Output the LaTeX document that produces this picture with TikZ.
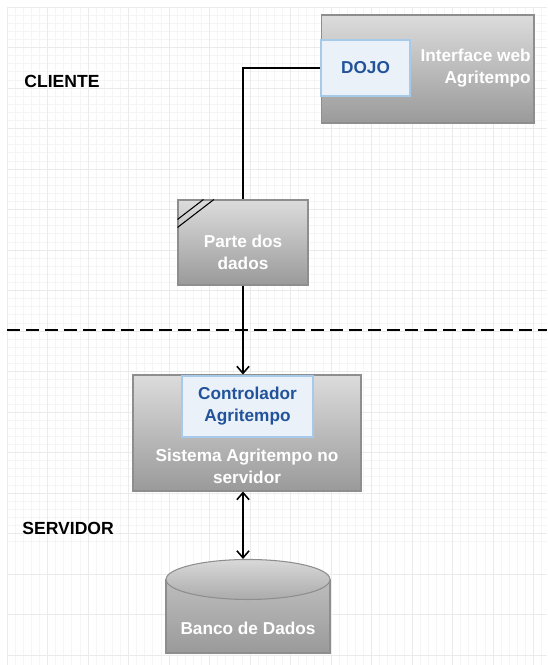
\documentclass[tikz,border=0pt]{standalone}
\usepackage{fontspec}
\setmainfont{Liberation Sans}
\usetikzlibrary{calc,positioning,arrows.meta,shapes.geometric}
\definecolor{boxline}{HTML}{8E8E8E}
\definecolor{shadetop}{HTML}{DCDCDC}
\definecolor{shadebot}{HTML}{9A9A9A}
\definecolor{innerfill}{HTML}{EAF1F9}
\definecolor{innerline}{HTML}{A8CAEA}
\definecolor{innertext}{HTML}{22539A}
\begin{document}
\begin{tikzpicture}[x=0.02cm,y=-0.02cm,
	box/.style={draw=boxline, line width=0.6pt, top color=shadetop, bottom color=shadebot},
	inner/.style={draw=innerline, line width=0.6pt, fill=innerfill, text=innertext, font=\fontsize{9.8pt}{12.5pt}\selectfont\bfseries, align=center},
	boxtext/.style={text=white, font=\fontsize{9.8pt}{12.5pt}\selectfont\bfseries, align=center, inner sep=0pt},
	side/.style={font=\fontsize{10pt}{12pt}\selectfont\bfseries, anchor=west, inner sep=0pt},
	wire/.style={line width=0.9pt},
	barb/.tip={Straight Barb[length=4pt,width=7pt,line width=0.9pt]}]
	\useasboundingbox[fill=white] (0,0) rectangle (547,665);
	\foreach \k in {0,...,66}{
		\draw[black!4, line width=0.4pt] (7+\k*8.1,7) -- (7+\k*8.1,665);
		\draw[black!4, line width=0.4pt] (7,7+\k*8.1) -- (547,7+\k*8.1);
	}
	\foreach \k in {0,...,16}{
		\draw[black!8, line width=0.4pt] (7+\k*40.5,7) -- (7+\k*40.5,665);
		\draw[black!8, line width=0.4pt] (7,7+\k*40.5) -- (547,7+\k*40.5);
	}
	\node[side] at (24,81) (cliente) {CLIENTE};
	\node[side] at (22,528) (servidor) {SERVIDOR};
	\node[box, minimum width=4.26cm, minimum height=2.16cm] at (427.5,69) (web) {};
	\node[boxtext, anchor=east, align=right] at (531,68.5) (weblabel) {Interface web\\Agritempo};
	\node[inner, minimum width=1.78cm, minimum height=1.12cm] at (365.5,68) (dojo) {DOJO};
	\node[box, minimum width=2.6cm, minimum height=1.7cm] at (243,242.5) (parte) {};
	\node[boxtext] at (243,252) (partelabel) {Parte dos\\dados};
	\foreach \d in {0,8}{
		\draw[line width=0.6pt] ($(parte.north west)+(0,20+\d)$) -- ($(parte.north west)+(26+\d*1.3,0)$);
	}
	\coordinate (sepL) at (7,330);
	\coordinate (sepR) at (547,330);
	\draw[line width=1pt, dash pattern=on 7.4pt off 3.4pt] (sepL) -- (sepR);
	\node[box, minimum width=4.56cm, minimum height=2.32cm] at (247,433) (sys) {};
	\node[inner, minimum width=2.62cm, minimum height=1.22cm] at (247.5,406.5) (ctrl) {Controlador\\Agritempo};
	\node[boxtext] at (247,466) (syslabel) {Sistema Agritempo no\\servidor};
	\node[box, minimum width=3.28cm, minimum height=1.46cm, top color=black!26] at (248,616.5) (db) {};
	\node[draw=boxline, line width=0.6pt, ellipse, inner sep=0pt, minimum width=3.28cm, minimum height=0.8cm, top color=black!15, bottom color=black!33] at (db.north) (dbtop) {};
	\node[boxtext] at (248,628) (dblabel) {Banco de Dados};
	\draw[wire] (dojo.west) -| (parte.north);
	\draw[wire, -barb] (parte.south) -- (parte.south |- sys.north);
	\draw[wire, barb-barb] (parte.south |- sys.south) -- (parte.south |- dbtop.north);
\end{tikzpicture}
\end{document}
